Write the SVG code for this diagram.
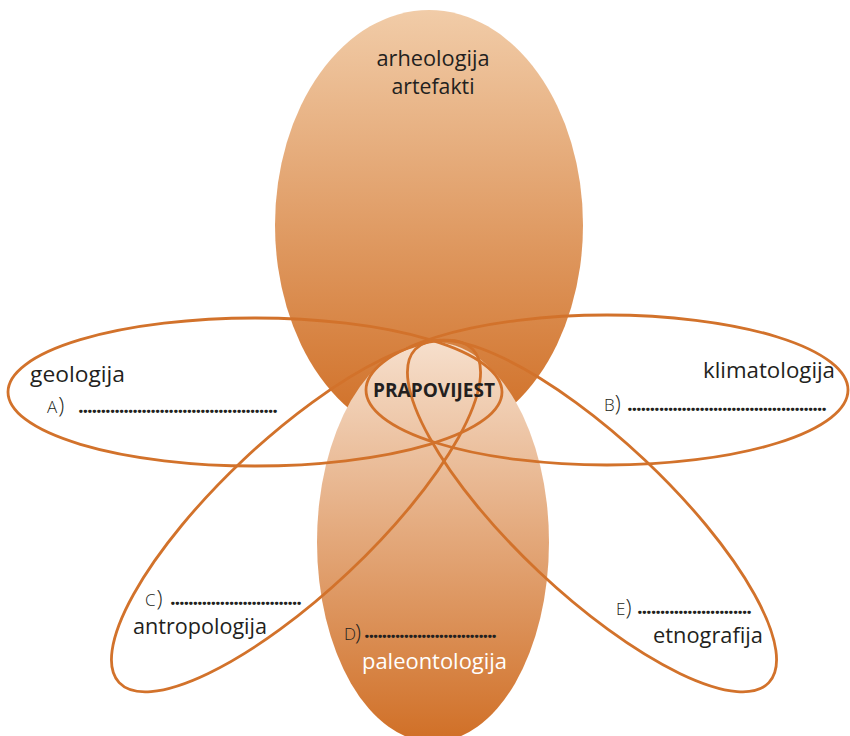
<svg xmlns="http://www.w3.org/2000/svg" width="850" height="736" viewBox="0 0 850 736">
<defs>
<linearGradient id="gTop" gradientUnits="userSpaceOnUse" x1="0" y1="10" x2="0" y2="430">
<stop offset="0" stop-color="#f1cca8"/>
<stop offset="1" stop-color="#d06f26"/>
</linearGradient>
<linearGradient id="gBot" gradientUnits="userSpaceOnUse" x1="0" y1="342" x2="0" y2="742">
<stop offset="0" stop-color="#f6dfcc"/>
<stop offset="1" stop-color="#d06f26"/>
</linearGradient>
<style>
.petal{fill:none;stroke:#d2722b;stroke-width:2.8}
.lbl{font-family:"Open Sans","Noto Sans","Liberation Sans",sans-serif;font-size:22px;fill:#231f20}
.let{font-family:"Open Sans","Noto Sans","Liberation Sans",sans-serif;font-size:17px;fill:#231f20;font-weight:300}
.par{font-size:22px}
.dots{font-family:"Open Sans","Noto Sans","Liberation Sans",sans-serif;font-size:20px;fill:#231f20;font-weight:bold}
.title{font-family:"Open Sans","Noto Sans","Liberation Sans",sans-serif;font-size:20px;font-weight:bold;fill:#231f20}
</style>
</defs>
<rect width="850" height="736" fill="#ffffff"/>

<g id="arheologija">
<ellipse cx="429" cy="225" rx="154" ry="215" fill="url(#gTop)"/>
<text class="lbl" x="433" y="66" text-anchor="middle" textLength="113" lengthAdjust="spacingAndGlyphs">arheologija</text>
<text class="lbl" x="433" y="94" text-anchor="middle" textLength="83" lengthAdjust="spacingAndGlyphs">artefakti</text>
</g>

<g id="paleontologija">
<ellipse cx="433" cy="542" rx="116" ry="200" fill="url(#gBot)"/>
</g>

<g id="geologija">
<ellipse class="petal" cx="255" cy="392" rx="247" ry="74"/>
<text class="lbl" x="30" y="382" textLength="95" lengthAdjust="spacingAndGlyphs">geologija</text>
<text class="let" x="47" y="413">A<tspan class="par" dx="1">)</tspan></text>
<text class="dots" x="78" y="413" textLength="200" lengthAdjust="spacing">............................................</text>
</g>

<g id="klimatologija">
<ellipse class="petal" cx="607" cy="390" rx="241" ry="75"/>
<text class="lbl" x="703" y="378" textLength="132" lengthAdjust="spacingAndGlyphs">klimatologija</text>
<text class="let" x="604" y="411">B<tspan class="par" dx="0">)</tspan></text>
<text class="dots" x="627" y="411" textLength="200" lengthAdjust="spacing">............................................</text>
</g>

<g id="antropologija">
<ellipse class="petal" cx="296" cy="516" rx="243" ry="77" transform="rotate(-43.3 296 516)"/>
<text class="let" x="145" y="606">C<tspan class="par" dx="1">)</tspan></text>
<text class="dots" x="170" y="605" textLength="132" lengthAdjust="spacing">.............................</text>
<text class="lbl" x="133" y="634" textLength="134" lengthAdjust="spacingAndGlyphs">antropologija</text>
</g>

<g id="etnografija">
<ellipse class="petal" cx="592" cy="516" rx="243" ry="77" transform="rotate(43.3 592 516)"/>
<text class="let" x="616" y="615">E<tspan class="par" dx="0">)</tspan></text>
<text class="dots" x="637" y="614" textLength="115" lengthAdjust="spacing">.........................</text>
<text class="lbl" x="653" y="643" textLength="110" lengthAdjust="spacingAndGlyphs">etnografija</text>
</g>

<g id="paleontologija-labels">
<text class="let" x="344" y="640">D<tspan class="par" dx="-1">)</tspan></text>
<text class="dots" x="364" y="638" textLength="133" lengthAdjust="spacing">..............................</text>
<text class="lbl" x="362" y="669" textLength="145" lengthAdjust="spacingAndGlyphs" style="fill:#ffffff">paleontologija</text>
</g>

<g id="prapovijest">
<text class="title" x="434" y="397" text-anchor="middle" textLength="122" lengthAdjust="spacingAndGlyphs">PRAPOVIJEST</text>
</g>
</svg>
